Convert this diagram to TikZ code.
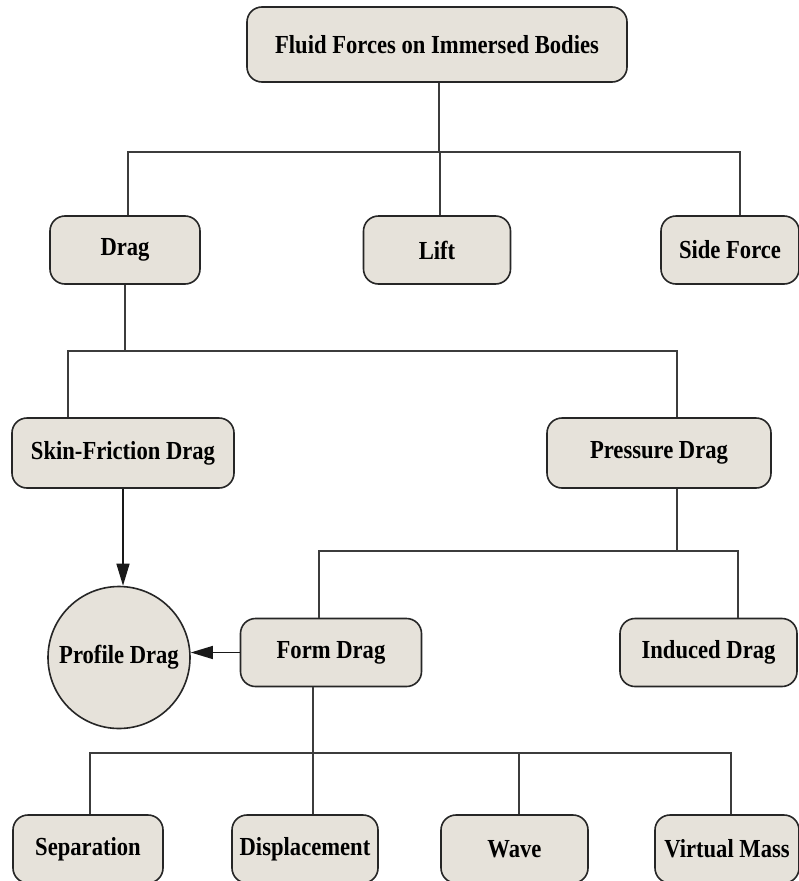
\documentclass[tikz,border=0pt]{standalone}
\usepackage{fontspec}
\setmainfont{Liberation Serif}[FakeStretch=0.87]
\usepackage{xcolor}
\usetikzlibrary{shapes,arrows.meta,positioning,calc}
\definecolor{boxgray}{RGB}{230,226,218}
\definecolor{linegray}{RGB}{60,60,60}

\begin{document}
\begin{tikzpicture}[x=1pt,y=-1pt,
            box/.style={rectangle, rounded corners=15pt, draw=black!85, line width=1.6pt, fill=boxgray, minimum width=#1, minimum height=68pt, inner sep=2pt, font=\bfseries\fontsize{26}{30}\selectfont},
            blob/.style={circle, draw=black!85, line width=1.6pt, fill=boxgray, minimum size=142pt, inner sep=0pt, font=\bfseries\fontsize{26}{30}\selectfont},
            link/.style={draw=linegray, line width=1.3pt},
            arrow/.style={link, -{Triangle[length=22pt,width=13pt]}, draw=black!90}]

            \fill[white] (0,0) rectangle (799,881);
            \useasboundingbox (0,0) rectangle (799,881);

            % Top level
            \node[box=380pt, minimum height=75pt] (fluid) at (437,44.5) {Fluid Forces on Immersed Bodies};

            % Forces
            \node[box=150pt] (drag) at (125,250) {Drag};
            \node[box=147pt] (lift) at (437,250) {Lift};
            \node[box=138pt] (side) at (730,250) {Side Force};

            % Drag types
            \node[box=222pt, minimum height=70pt] (skin) at (123,453) {Skin-Friction Drag};
            \node[box=224pt, minimum height=70pt] (pressure) at (659,453) {Pressure Drag};

            % Pressure drag types
            \node[blob] (profile) at (119,657.5) {Profile Drag};
            \node[box=181pt] (form) at (331,652.5) {Form Drag};
            \node[box=177pt] (induced) at (708.5,652.5) {Induced Drag};

            % Form drag types
            \node[box=150pt] (sep) at (88,849) {Separation};
            \node[box=146pt] (disp) at (305,849) {Displacement};
            \node[box=147pt] (wave) at (514.5,849) {Wave};
            \node[box=144pt] (virtual) at (727,849) {Virtual Mass};

            % Junctions
            \coordinate (j1) at (439,152);
            \coordinate (j2) at (124,351);
            \coordinate (j3) at (677,551);
            \coordinate (j4) at (313,753);

            % Attach points
            \coordinate (fluid-out) at ($(fluid.south)+(2,0)$);
            \coordinate (drag-in) at ($(drag.north)+(3,0)$);
            \coordinate (lift-in) at ($(lift.north)+(3,0)$);
            \coordinate (side-in) at ($(side.north)+(10,0)$);
            \coordinate (skin-in) at ($(skin.north)+(-55,0)$);
            \coordinate (pressure-in) at ($(pressure.north)+(18,0)$);
            \coordinate (pressure-out) at ($(pressure.south)+(18,0)$);
            \coordinate (form-in) at ($(form.north)+(-12,0)$);
            \coordinate (form-out) at ($(form.south)+(-18,0)$);
            \coordinate (induced-in) at ($(induced.north)+(29.5,0)$);
            \coordinate (sep-in) at ($(sep.north)+(2,0)$);
            \coordinate (disp-in) at ($(disp.north)+(8,0)$);
            \coordinate (wave-in) at ($(wave.north)+(4.5,0)$);
            \coordinate (virtual-in) at ($(virtual.north)+(4,0)$);

            % Connections
            \draw[link] (fluid-out) -- (fluid-out |- j1);
            \draw[link] (drag-in) |- (j1) -| (side-in);
            \draw[link] (lift-in) -- (lift-in |- j1);

            \draw[link] (drag.south) -- (drag.south |- j2);
            \draw[link] (skin-in) |- (j2) -| (pressure-in);

            \draw[link] (pressure-out) -- (j3);
            \draw[link] (form-in) |- (j3) -| (induced-in);

            \draw[link] (form-out) -- (j4);
            \draw[link] (sep-in) |- (j4) -| (virtual-in);
            \draw[link] (j4) -- (disp-in);
            \draw[link] (wave-in) -- (wave-in |- j4);

            \draw[arrow] (skin.south) -- (skin.south |- profile.north);
            \draw[arrow] (form.west) -- (form.west -| profile.east);
\end{tikzpicture}
\end{document}
